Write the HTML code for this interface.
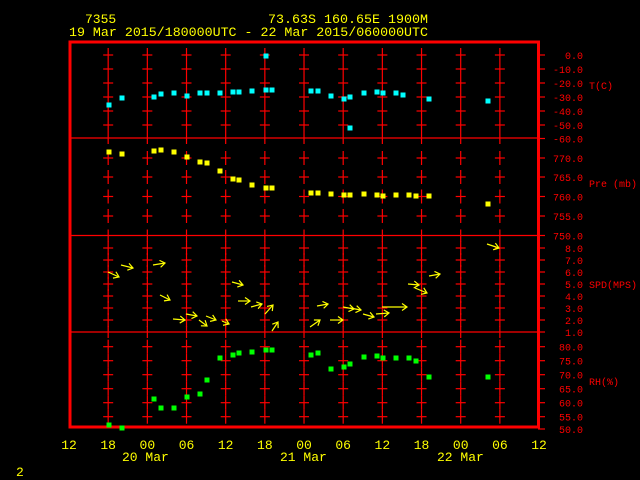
<!DOCTYPE html>
<html><head><meta charset="utf-8"><style>
html,body{margin:0;padding:0;background:#000;}
svg{display:block;}
text{font-family:"Liberation Mono","DejaVu Sans Mono",monospace;}
</style></head><body>
<svg id="s" width="640" height="480" viewBox="0 0 640 480" xmlns="http://www.w3.org/2000/svg">
<rect width="640" height="480" fill="#000"/>
<defs><marker id="ah" markerWidth="8" markerHeight="8" refX="6" refY="4" orient="auto" markerUnits="userSpaceOnUse"><path d="M1,0.5 L6,4 L1,7.5" fill="none" stroke="#ff0" stroke-width="1.2"/></marker></defs>
<g id="grid" stroke="#f00" stroke-width="1.2"></g>
<g id="fr" fill="none" stroke="#f00"></g>
<g id="lab" fill="#f00" font-size="10"></g>
<g id="pts"></g>
<g id="arr" stroke="#ff0" stroke-width="1.2" fill="none"></g>
<g fill="#ff0" font-size="13">
<text x="85" y="23">7355</text>
<text x="268" y="23" textLength="160" lengthAdjust="spacingAndGlyphs">73.63S  160.65E  1900M</text>
<text x="69" y="36" textLength="359" lengthAdjust="spacingAndGlyphs">19 Mar 2015/180000UTC - 22 Mar 2015/060000UTC</text>
<text x="122" y="461">20 Mar</text>
<text x="280" y="461">21 Mar</text>
<text x="437" y="461">22 Mar</text>
<text x="16" y="476">2</text>
</g>
<g id="bot" fill="#ff0" font-size="13" text-anchor="middle"></g>
</svg>
<script>
var NS="http://www.w3.org/2000/svg";
function el(p,t,a,txt){var e=document.createElementNS(NS,t);for(var k in a)e.setAttribute(k,a[k]);if(txt!=null)e.textContent=txt;document.getElementById(p).appendChild(e);return e;}
var cols=[];for(var i=0;i<13;i++)cols.push(69+i*39.17);
var ticks=[55,69,83,97,111,125,158,177,196.5,216,248,260,272,284,296,308,320,346.7,360.7,374.7,388.7,402.7,416.7];
for(var c=1;c<12;c++){var x=cols[c];
 ticks.forEach(function(y){el("grid","line",{x1:x,x2:x,y1:y-7,y2:y+7});el("grid","line",{x1:x-5,x2:x+5,y1:y,y2:y});});
 [138,235.5,332].forEach(function(y){el("grid","line",{x1:x,x2:x,y1:y-6,y2:y+6});});
}
// frame
el("fr","rect",{x:70,y:42,width:468.5,height:385,"stroke-width":3});
[138,235.5,332].forEach(function(y){el("fr","line",{x1:70,x2:538,y1:y,y2:y,"stroke-width":1.3});});
var labs=[[55,"0.0"],[69,"-10.0"],[83,"-20.0"],[97,"-30.0"],[111,"-40.0"],[125,"-50.0"],[138.5,"-60.0"],[158,"770.0"],[177,"765.0"],[196.5,"760.0"],[216,"755.0"],[235.5,"750.0"],[248,"8.0"],[260,"7.0"],[272,"6.0"],[284,"5.0"],[296,"4.0"],[308,"3.0"],[320,"2.0"],[332,"1.0"],[346.7,"80.0"],[360.7,"75.0"],[374.7,"70.0"],[388.7,"65.0"],[402.7,"60.0"],[416.7,"55.0"],[429,"50.0"]];
labs.forEach(function(l){el("fr","line",{x1:538,x2:545,y1:l[0],y2:l[0],"stroke-width":1.2});el("lab","text",{x:583,y:l[0]+4,"text-anchor":"end"},l[1]);});
[[89,"T(C)"],[187,"Pre (mb)"],[288,"SPD(MPS)"],[385,"RH(%)"]].forEach(function(l){el("lab","text",{x:589,y:l[0]},l[1]);});
var bl=["12","18","00","06","12","18","00","06","12","18","00","06","12"];
cols.forEach(function(x,i){el("bot","text",{x:x,y:449},bl[i]);});
function sq(arr,col){arr.forEach(function(p){el("pts","rect",{x:p[0]-2.5,y:p[1]-2.5,width:5,height:5,fill:col});});}
sq([[109,105],[122,98],[154,97],[161,94],[174,93],[187,96],[200,93],[207,93],[220,93],[233,92],[239,92],[252,91],[266,90],[272,90],[266,56],[311,91],[318,91],[331,96],[344,99],[350,97],[350,128],[364,93],[377,92],[383,93],[396,93],[403,95],[429,99],[488,101]],"#0ff");
sq([[109,152],[122,154],[154,151],[161,150],[174,152],[187,157],[200,162],[207,163],[220,171],[233,179],[239,180],[252,185],[266,188],[272,188],[311,193],[318,193],[331,194],[344,195],[350,195],[364,194],[377,195],[383,196],[396,195],[409,195],[416,196],[429,196],[488,204]],"#ff0");
sq([[109,425],[122,428],[154,399],[161,408],[174,408],[187,397],[200,394],[207,380],[220,358],[233,355],[239,353],[252,352],[266,350],[272,350],[311,355],[318,353],[331,369],[344,367],[350,364],[364,357],[377,356],[383,358],[396,358],[409,358],[416,361],[429,377],[488,377]],"#0f0");
[[108,272,119,277],[121,265,133,268],[153,265,165,263],[160,295,170,300],[173,319,185,320],[186,314,197,316],[199,320,207,326],[206,316,216,320],[222,321,229,324],[232,282,243,285],[238,301,250,301],[251,307,262,304],[265,314,273,305],[272,331,278,322],[310,327,320,320],[330,320,343,320],[317,306,328,304],[343,307,354,309],[350,308,361,310],[363,314,374,317],[376,314,389,313],[382,307,407,307],[408,284,419,285],[415,288,427,293],[429,276,440,274],[487,244,499,248]].forEach(function(a){el("arr","line",{x1:a[0],y1:a[1],x2:a[2],y2:a[3],"marker-end":"url(#ah)"});});
</script>
</body></html>
